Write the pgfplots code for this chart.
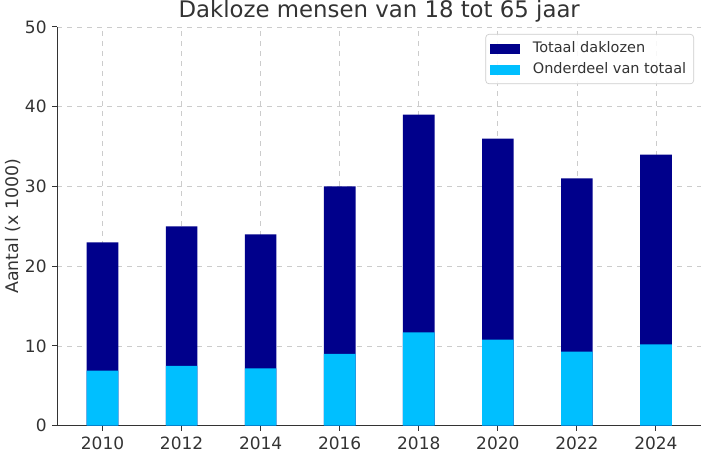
\documentclass[border=0pt]{standalone}
\usepackage{fontspec}
\setmainfont{DejaVu Sans}
\usepackage{pgfplots}
\pgfplotsset{compat=1.18}
\definecolor{navy}{HTML}{00008B}
\definecolor{sky}{HTML}{00BFFF}
\definecolor{txt}{HTML}{333333}
\definecolor{gridc}{HTML}{CCCCCC}
\begin{document}
\begin{tikzpicture}
\begin{axis}[
  scale only axis, width=386.4pt, height=239.4pt,
  xmin=2008.86, xmax=2025.14, ymin=0, ymax=50,
  axis lines*=left,
  axis line style={txt, line width=0.6pt},
  ybar, bar width=0.8, bar shift=0pt,
  xtick={2010,2012,...,2024}, ytick={0,10,...,50},
  /pgf/number format/assume math mode=true,
  /pgf/number format/1000 sep={},
  tick align=outside, major tick length=3pt,
  tick style={txt, line width=0.6pt},
  ticklabel style={font=\fontsize{10.2}{12}\selectfont, text=txt},
  xmajorgrids, ymajorgrids,
  grid style={gridc, dashed, line width=0.4pt},
  title={Dakloze mensen van 18 tot 65 jaar},
  title style={font=\fontsize{13.7}{16}\selectfont, text=txt, at={(0.5,1)}, anchor=base, yshift=-0.6pt},
  ylabel={Aantal (x 1000)},
  ylabel shift=-4.2pt,
  ylabel style={font=\fontsize{10.4}{12}\selectfont, text=txt},
  xlabel={Jaar},
  xlabel style={font=\fontsize{10.4}{12}\selectfont, text=txt},
  legend style={at={(1,1)}, anchor=north east, xshift=-4.2pt, yshift=-4.2pt,
    draw=gridc, rounded corners=2pt, fill=white, fill opacity=0.85, text opacity=1,
    font=\fontsize{8.7}{10.5}\selectfont, text=txt, inner sep=2.5pt,
    row sep=0.5pt},
  legend cell align=left,
  legend image code/.code={\fill[#1, draw=none, sharp corners, fill opacity=1] (0pt,-3pt) rectangle (18pt,3pt); \path (23.8pt,0pt);},
]
\addplot[fill=navy, draw=none, bar shift=0pt] coordinates {
 (2010,23) (2012,25) (2014,24) (2016,30) (2018,39) (2020,36) (2022,31) (2024,34)};
\addlegendentry{Totaal daklozen}
\addplot[fill=sky, draw=none, bar shift=0pt] coordinates {
 (2010,6.9) (2012,7.5) (2014,7.2) (2016,9.0) (2018,11.7) (2020,10.8) (2022,9.3) (2024,10.2)};
\addlegendentry{Onderdeel van totaal}
\coordinate (SW) at (rel axis cs:0,0);
\coordinate (NE) at (rel axis cs:1,1);
\end{axis}
\pgfresetboundingbox
\path[use as bounding box] ([xshift=-34.5pt,yshift=-18.6pt]SW) rectangle ([xshift=0.6pt,yshift=16.2pt]NE);
\end{tikzpicture}
\end{document}
